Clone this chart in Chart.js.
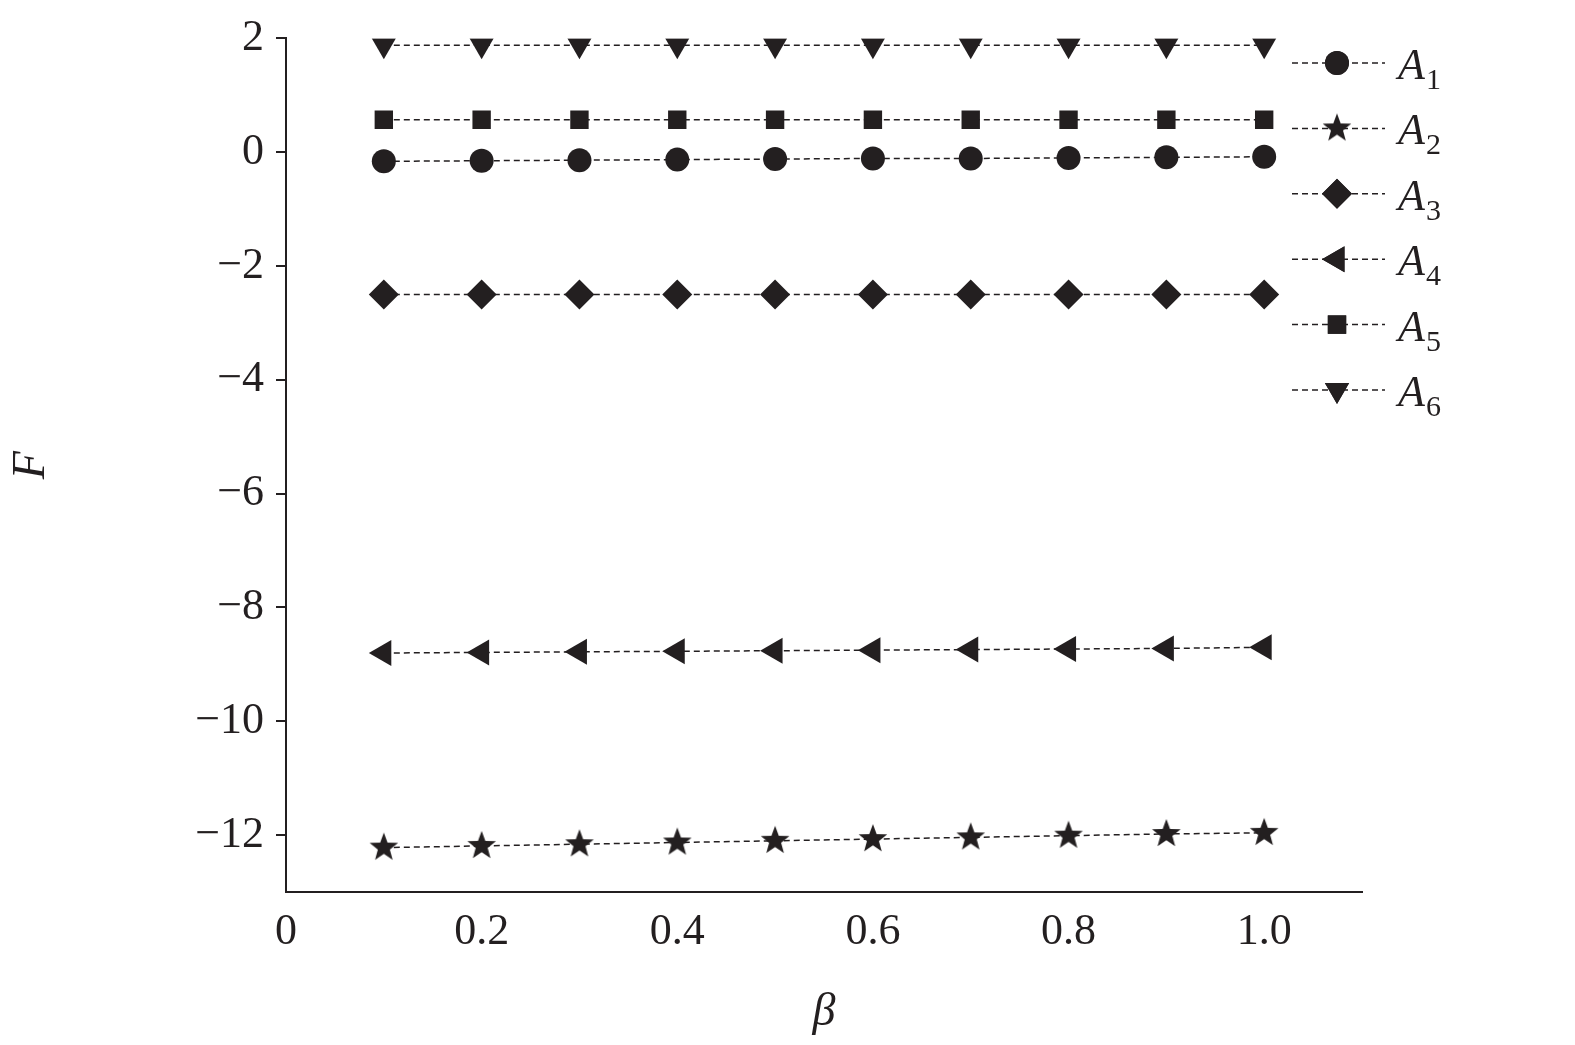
<!DOCTYPE html>
<html>
<head>
<meta charset="utf-8">
<script src="https://cdn.jsdelivr.net/npm/chart.js@4.4.0/dist/chart.umd.min.js"></script>
<style>
  body { margin: 0; background: #fff; }
  #wrap { width: 1575px; height: 1045px; }
</style>
</head>
<body>
<div id="wrap"><canvas id="c" width="1575" height="1045"></canvas></div>
<script>
// ============================
// Data
// ============================
const betaValues = [0.1, 0.2, 0.3, 0.4, 0.5, 0.6, 0.7, 0.8, 0.9, 1.0];
const seriesNames = ["1", "2", "3", "4", "5", "6"];
const a1 = [-0.16, -0.15, -0.14, -0.13, -0.12, -0.11, -0.11, -0.10, -0.09, -0.08];
const a2 = [-12.22, -12.19, -12.16, -12.13, -12.10, -12.07, -12.04, -12.01, -11.98, -11.96];
const a3 = [-2.5, -2.5, -2.5, -2.5, -2.5, -2.5, -2.5, -2.5, -2.5, -2.5];
const a4 = [-8.80, -8.79, -8.78, -8.77, -8.76, -8.75, -8.74, -8.73, -8.72, -8.70];
const a5 = [0.57, 0.57, 0.57, 0.57, 0.57, 0.57, 0.57, 0.57, 0.57, 0.57];
const a6 = [1.88, 1.88, 1.88, 1.88, 1.88, 1.88, 1.88, 1.88, 1.88, 1.88];
const yTicks = [2, 0, -2, -4, -6, -8, -10, -12];
const xTicks = [0, 0.2, 0.4, 0.6, 0.8, 1.0];

const INK = "#231f20";
const FONT = "'Liberation Serif', 'DejaVu Serif', serif";

// filled star marker
function makeStar(r) {
  const cv = document.createElement("canvas");
  cv.width = cv.height = r * 2 + 2;
  const g = cv.getContext("2d");
  g.fillStyle = INK;
  g.beginPath();
  for (let i = 0; i < 10; i++) {
    const rad = i % 2 === 0 ? r : r * 0.42;
    const a = -Math.PI / 2 + i * Math.PI / 5;
    const x = r + 1 + rad * Math.cos(a), y = r + 1 + rad * Math.sin(a);
    i === 0 ? g.moveTo(x, y) : g.lineTo(x, y);
  }
  g.closePath();
  g.fill();
  return cv;
}
const starImg = makeStar(15);

const styles = [
  { data: a1, pointStyle: "circle", rotation: 0, radius: 12 },
  { data: a2, pointStyle: starImg, rotation: 0, radius: 12 },
  { data: a3, pointStyle: "rectRot", rotation: 0, radius: 15 },
  { data: a4, pointStyle: "triangle", rotation: -90, radius: 15 },
  { data: a5, pointStyle: "rect", rotation: 0, radius: 13 },
  { data: a6, pointStyle: "triangle", rotation: 180, radius: 14 }
];

const datasets = styles.map((s, i) => ({
  label: "A" + seriesNames[i],
  data: betaValues.map((b, j) => ({ x: b, y: s.data[j] })),
  borderColor: INK,
  backgroundColor: INK,
  borderWidth: 1.5,
  borderDash: [6, 4],
  pointStyle: s.pointStyle,
  pointRotation: s.rotation,
  pointRadius: s.radius,
  pointBorderWidth: 0,
  showLine: true
}));

// legend on the right
const legendPlugin = {
  id: "sideLegend",
  afterDraw(chart) {
    const ctx = chart.ctx;
    ctx.save();
    datasets.forEach((ds, i) => {
      const y = 63 + i * 65.4;
      ctx.strokeStyle = INK;
      ctx.lineWidth = 1.5;
      ctx.setLineDash([6, 4]);
      ctx.beginPath();
      ctx.moveTo(1292, y);
      ctx.lineTo(1385, y);
      ctx.stroke();
      ctx.setLineDash([]);
      ctx.fillStyle = INK;
      Chart.helpers.drawPoint(ctx, {
        pointStyle: ds.pointStyle, rotation: ds.pointRotation,
        radius: ds.pointRadius, borderWidth: 0
      }, 1337, y);
      ctx.fill();
      ctx.textBaseline = "alphabetic";
      ctx.textAlign = "left";
      ctx.font = "italic 44px " + FONT;
      ctx.fillText("A", 1398, y + 16);
      ctx.font = "30px " + FONT;
      ctx.fillText(seriesNames[i], 1426, y + 26);
    });
    ctx.restore();
  }
};

new Chart(document.getElementById("c"), {
  type: "scatter",
  data: { datasets: datasets },
  plugins: [legendPlugin],
  options: {
    responsive: false,
    animation: false,
    layout: { padding: { top: 32, right: 213, left: 0, bottom: 0 } },
    plugins: { legend: { display: false }, tooltip: { enabled: false } },
    scales: {
      x: {
        type: "linear", min: 0, max: 1.1,
        afterFit(s) { s.height = 153; },
        afterBuildTicks(s) { s.ticks = xTicks.map(v => ({ value: v })); },
        border: { color: INK, width: 2 },
        grid: { display: true, drawOnChartArea: false, drawTicks: false },
        ticks: {
          color: INK, padding: 14,
          font: { family: FONT, size: 44 },
          callback: v => v === 0 ? "0" : v.toFixed(1)
        },
        title: { display: true, text: "β", color: INK, padding: { top: 12 },
          font: { family: FONT, size: 46, style: "italic" } }
      },
      y: {
        type: "linear", min: -13, max: 2,
        afterFit(s) { s.width = 286; },
        afterBuildTicks(s) { s.ticks = yTicks.map(v => ({ value: v })); },
        border: { color: INK, width: 2 },
        grid: { display: true, drawOnChartArea: false, tickLength: 10, color: INK, lineWidth: 2 },
        ticks: {
          color: INK, padding: 12,
          font: { family: FONT, size: 44 },
          callback: v => v < 0 ? "\u2212" + Math.abs(v) : String(v)
        },
        title: { display: true, text: "F", color: INK, padding: { bottom: 70 },
          font: { family: FONT, size: 46, style: "italic" } }
      }
    }
  }
});
</script>
</body>
</html>
